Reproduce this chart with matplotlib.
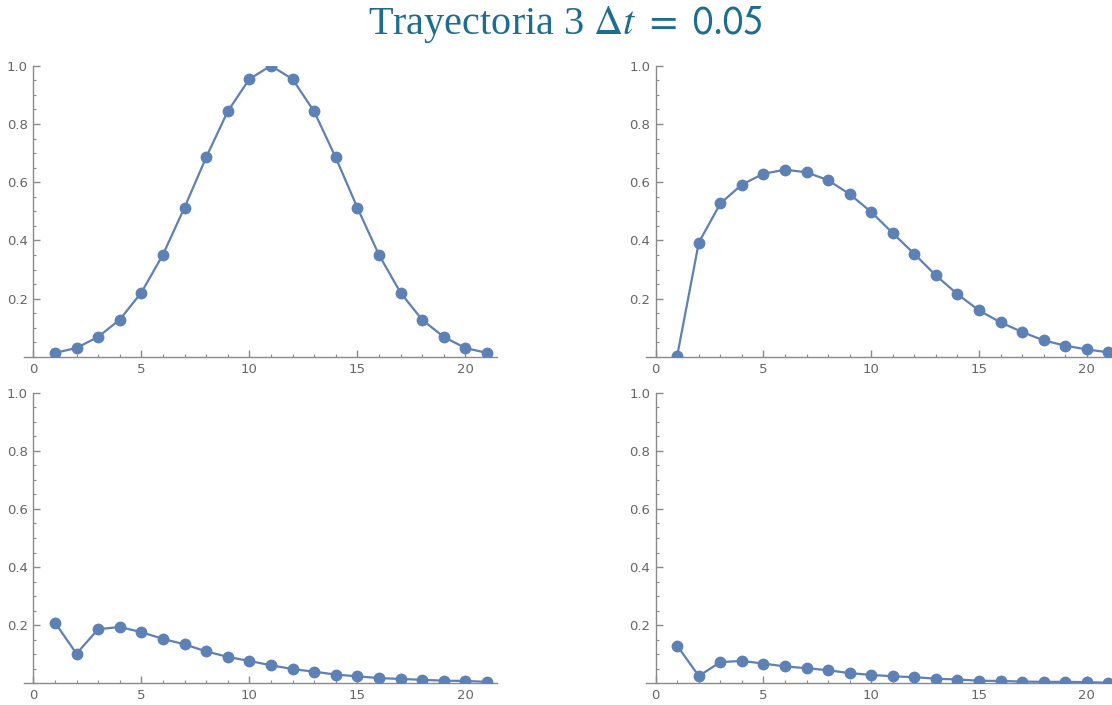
import numpy as np
import matplotlib
matplotlib.use("Agg")
import matplotlib.pyplot as plt
from matplotlib.ticker import MultipleLocator, FixedLocator

# valores (pasos 1..21)
pasos = np.arange(1, 22)
arriba_izq = [0.014, 0.031, 0.069, 0.128, 0.221, 0.351, 0.513, 0.685, 0.843, 0.954, 1.0,
              0.954, 0.843, 0.685, 0.513, 0.351, 0.221, 0.128, 0.069, 0.031, 0.014]
arriba_der = [0.005, 0.393, 0.527, 0.592, 0.629, 0.643, 0.634, 0.607, 0.559, 0.498, 0.425,
              0.354, 0.280, 0.216, 0.160, 0.119, 0.086, 0.057, 0.039, 0.026, 0.016]
abajo_izq = [0.209, 0.102, 0.186, 0.194, 0.176, 0.153, 0.134, 0.110, 0.091, 0.077, 0.062,
             0.049, 0.040, 0.030, 0.024, 0.018, 0.015, 0.012, 0.009, 0.008, 0.005]
abajo_der = [0.129, 0.025, 0.073, 0.077, 0.068, 0.058, 0.052, 0.045, 0.035, 0.029, 0.024,
             0.021, 0.016, 0.013, 0.009, 0.008, 0.006, 0.005, 0.005, 0.004, 0.002]

xticks = [0, 5, 10, 15, 20]
yticks = [0.2, 0.4, 0.6, 0.8, 1.0]

color = '#5E81B5'
eje = '#8a8a8a'
texto = '#666666'

W, H = 1112, 705
fig = plt.figure(figsize=(W/100, H/100), dpi=100)

def panel(x0, xs, y_top, y_bot, datos):
    # x0: pixel de x=0, xs: pixeles por unidad
    xmin, xmax = -0.45, 21.45
    left = x0 + xmin*xs
    right = x0 + xmax*xs
    ax = fig.add_axes([left/W, 1 - y_bot/H, (right-left)/W, (y_bot-y_top)/H])
    ax.plot(pasos, datos, '-o', color=color, lw=1.6, ms=7.5, zorder=3)
    ax.set_xlim(xmin, xmax)
    ax.set_ylim(0, 1.0)
    for s in ['top', 'right']:
        ax.spines[s].set_visible(False)
    ax.spines['left'].set_position(('data', 0))
    ax.spines['left'].set_color(eje)
    ax.spines['bottom'].set_color(eje)
    ax.spines['left'].set_linewidth(1.0)
    ax.spines['bottom'].set_linewidth(1.0)
    ax.xaxis.set_major_locator(FixedLocator(xticks))
    ax.xaxis.set_minor_locator(MultipleLocator(1))
    ax.yaxis.set_major_locator(FixedLocator(yticks))
    ax.yaxis.set_minor_locator(MultipleLocator(0.05))
    ax.set_xticklabels([str(t) for t in xticks])
    ax.set_yticklabels(['%.1f' % t for t in yticks])
    ax.tick_params(which='major', direction='in', length=5, width=1.0, color=eje,
                   labelsize=9.5, labelcolor=texto, pad=4)
    ax.tick_params(which='minor', direction='in', length=2.5, width=0.8, color=eje)
    ax.patch.set_alpha(0)
    return ax

panel(33.3, 21.6, 65.7, 357, arriba_izq)
panel(655.7, 21.55, 65.7, 357, arriba_der)
panel(33.3, 21.6, 392.7, 683.3, abajo_izq)
panel(655.7, 21.55, 392.7, 683.3, abajo_der)

plt.rcParams['mathtext.fontset'] = 'stix'
fig.text(566/W, 1 - 34/H, r'Trayectoria 3 $\Delta t\ =\ \mathsf{0.05}$',
         ha='center', va='baseline', fontsize=29, color='#1C6D8F',
         family='Liberation Serif')

fig.savefig('out.png', dpi=100)
